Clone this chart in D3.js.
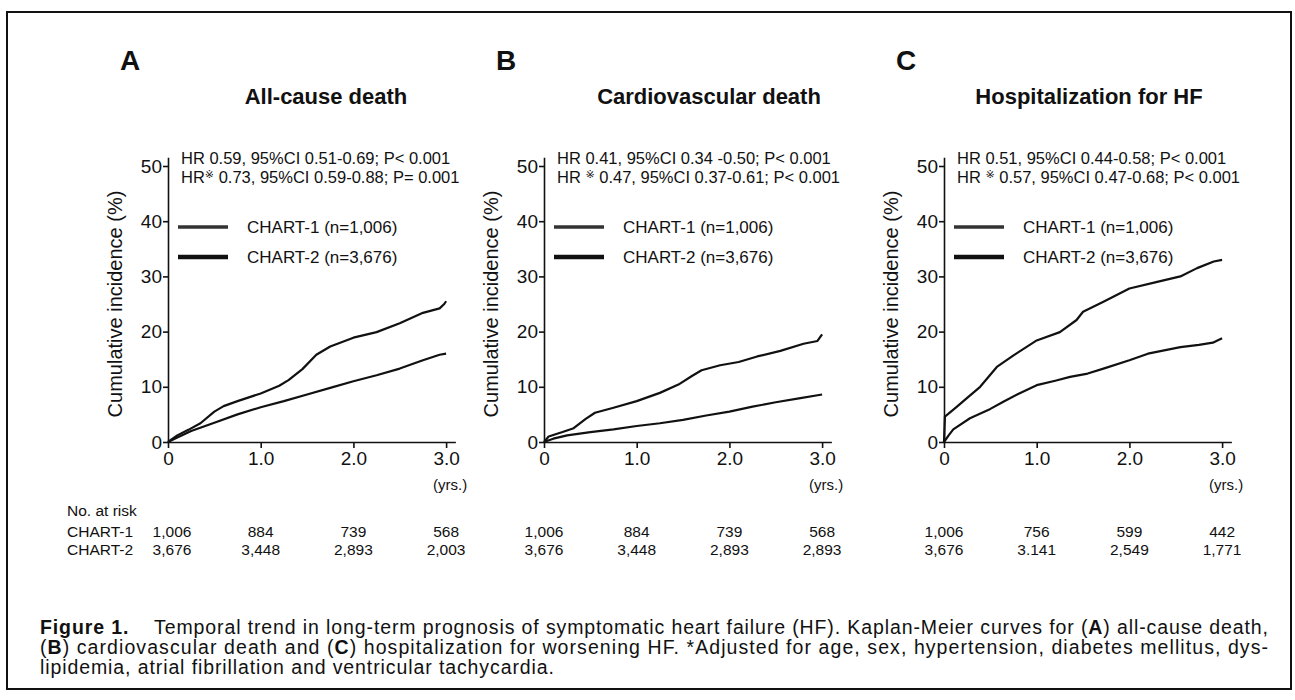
<!DOCTYPE html>
<html>
<head>
<meta charset="utf-8">
<script src="https://cdn.jsdelivr.net/npm/d3@7/dist/d3.min.js"></script>
<style>
  body { margin: 0; background: #fff; }
  svg text { font-family: "Liberation Sans", Arial, Helvetica, sans-serif; fill: #111; }
  .axis path, .axis line { stroke: #111; stroke-width: 1.6; }
  .curve { fill: none; stroke: #111; stroke-width: 2.2; stroke-linejoin: round; }
</style>
</head>
<body>
<svg id="chart" width="1295" height="700"></svg>
<script>
// panel text
var panelLetters = ["A", "B", "C"];
var panelTitles = ["All-cause death", "Cardiovascular death", "Hospitalization for HF"];
var hrLine1 = ["HR 0.59, 95%CI 0.51-0.69; P< 0.001",
               "HR 0.41, 95%CI 0.34 -0.50; P< 0.001",
               "HR 0.51, 95%CI 0.44-0.58; P< 0.001"];
var hrLine2 = [["HR", " 0.73, 95%CI 0.59-0.88; P= 0.001"],
               ["HR ", " 0.47, 95%CI 0.37-0.61; P< 0.001"],
               ["HR ", " 0.57, 95%CI 0.47-0.68; P< 0.001"]];
var seriesNames = ["CHART-1 (n=1,006)", "CHART-2 (n=3,676)"];

// axis ticks
var xTicks = [0, 1, 2, 3];
var xTickLabels = ["0", "1.0", "2.0", "3.0"];
var yTicks = [0, 10, 20, 30, 40, 50];

// curves: [years, cumulative incidence %]
var allCause1 = [[0,0],[0.1,1.2],[0.22,2.2],[0.35,3.4],[0.5,5.5],[0.6,6.5],[0.75,7.4],[1.0,8.8],[1.2,10.2],
                 [1.3,11.2],[1.45,13.2],[1.6,15.8],[1.75,17.3],[2.0,18.9],[2.25,19.9],[2.5,21.5],[2.75,23.4],
                 [2.93,24.2],[2.98,25.0],[3.0,25.5]];
var allCause2 = [[0,0],[0.1,0.8],[0.25,2.0],[0.5,3.5],[0.75,5.0],[1.0,6.3],[1.25,7.4],[1.5,8.6],[1.75,9.8],
                 [2.0,11.0],[2.25,12.1],[2.5,13.3],[2.75,14.8],[2.93,15.8],[3.0,16.0]];
var cardio1 = [[0,0],[0.05,1.0],[0.2,1.8],[0.32,2.5],[0.45,4.2],[0.55,5.3],[0.75,6.2],[1.0,7.4],[1.25,8.9],
               [1.45,10.4],[1.6,12.0],[1.7,13.0],[1.9,13.9],[2.1,14.5],[2.3,15.5],[2.55,16.5],[2.8,17.8],
               [2.95,18.3],[3.0,19.5]];
var cardio2 = [[0,0],[0.1,0.6],[0.25,1.2],[0.5,1.8],[0.75,2.3],[1.0,2.9],[1.25,3.4],[1.5,4.0],[1.75,4.8],
               [2.0,5.5],[2.25,6.4],[2.5,7.2],[2.75,7.9],[3.0,8.6]];
var hosp1 = [[0,0],[0.01,4.6],[0.14,6.4],[0.25,8.0],[0.39,10.0],[0.57,13.6],[0.75,15.7],[1.0,18.4],
             [1.25,19.9],[1.43,22.1],[1.5,23.6],[1.72,25.4],[2.0,27.8],[2.3,29.0],[2.55,30.0],[2.73,31.5],
             [2.91,32.7],[3.0,33.0]];
var hosp2 = [[0,0],[0.05,1.2],[0.1,2.3],[0.28,4.3],[0.5,6.0],[0.64,7.3],[0.8,8.7],[1.0,10.3],[1.2,11.1],
             [1.36,11.8],[1.55,12.4],[1.72,13.3],[2.0,14.8],[2.2,16.0],[2.55,17.2],[2.75,17.6],[2.9,18.0],
             [3.0,18.8]];
var panelSeries = [[allCause1, allCause2], [cardio1, cardio2], [hosp1, hosp2]];

// numbers at risk
var riskChart1 = [["1,006", "884", "739", "568"],
                  ["1,006", "884", "739", "568"],
                  ["1,006", "756", "599", "442"]];
var riskChart2 = [["3,676", "3,448", "2,893", "2,003"],
                  ["3,676", "3,448", "2,893", "2,893"],
                  ["3,676", "3.141", "2,549", "1,771"]];

var captionLines = [
  ["Figure 1.", "    Temporal trend in long-term prognosis of symptomatic heart failure (HF). Kaplan-Meier curves for (", "A", ") all-cause death,"],
  ["(", "B", ") cardiovascular death and (", "C", ") hospitalization for worsening HF. *Adjusted for age, sex, hypertension, diabetes mellitus, dys-"],
  ["lipidemia, atrial fibrillation and ventricular tachycardia."]
];

// layout
var originX = [168, 544, 944];
var letterX = [130, 506, 906];
var titleX = [326, 709, 1089];
var yrPx = 92.7;
var y0 = 442, pxPerPct = 5.52;

var svg = d3.select("#chart");

// outer frame
svg.append("rect")
   .attr("x", 7).attr("y", 12)
   .attr("width", 1284).attr("height", 677)
   .attr("fill", "none").attr("stroke", "#111").attr("stroke-width", 2);

var y = d3.scaleLinear().domain([0, 51.6]).range([y0, y0 - 51.6 * pxPerPct]);

panelSeries.forEach(function(series, i) {
    var ox = originX[i];
    var x = d3.scaleLinear().domain([0, 3.1]).range([ox, ox + 3.1 * yrPx]);
    var g = svg.append("g");

    g.append("text").attr("x", letterX[i]).attr("y", 70)
     .attr("text-anchor", "middle").style("font-size", "28px").style("font-weight", "bold")
     .text(panelLetters[i]);

    g.append("text").attr("x", titleX[i]).attr("y", 104)
     .attr("text-anchor", "middle").style("font-size", "22px").style("font-weight", "bold")
     .text(panelTitles[i]);

    // axes
    g.append("g").attr("class", "axis")
     .attr("transform", "translate(" + ox + ",0)")
     .call(d3.axisLeft(y).tickValues(yTicks).tickSize(5).tickPadding(1).tickSizeOuter(0))
     .selectAll("text").style("font-size", "19px").style("font-family", "Liberation Sans, Arial, sans-serif");

    g.append("g").attr("class", "axis")
     .attr("transform", "translate(0," + y0 + ")")
     .call(d3.axisBottom(x).tickValues(xTicks).tickSize(6).tickPadding(4).tickSizeOuter(0)
             .tickFormat((d, k) => xTickLabels[k]))
     .selectAll("text").style("font-size", "19px").style("font-family", "Liberation Sans, Arial, sans-serif");

    svg.selectAll(".axis .domain").attr("stroke", "#111");

    g.append("text").attr("x", x(3) + 4).attr("y", 490)
     .attr("text-anchor", "middle").style("font-size", "15px").text("(yrs.)");

    // y label
    g.append("text")
     .attr("transform", "translate(" + (ox - 46) + "," + y(25) + ") rotate(-90)")
     .attr("text-anchor", "middle").style("font-size", "20px")
     .text("Cumulative incidence  (%)");

    // hazard ratios
    g.append("text").attr("x", ox + 13).attr("y", 164).style("font-size", "16.5px").text(hrLine1[i]);
    var t2 = g.append("text").attr("x", ox + 13).attr("y", 183).style("font-size", "16.5px");
    t2.append("tspan").text(hrLine2[i][0]);
    t2.append("tspan").attr("dy", -5).style("font-size", "11px")
      .style("font-family", "DejaVu Sans, sans-serif").text("\u203B");
    t2.append("tspan").attr("dy", 5).text(hrLine2[i][1]);

    // legend
    seriesNames.forEach(function(name, k) {
        var ly = 227 + k * 30;
        g.append("line").attr("x1", ox + 10).attr("x2", ox + 60)
         .attr("y1", ly).attr("y2", ly)
         .attr("stroke", k == 0 ? "#333" : "#111").attr("stroke-width", k == 0 ? 3.5 : 4.5);
        g.append("text").attr("x", ox + 79).attr("y", ly + 6)
         .style("font-size", "17px").text(name);
    });

    // curves
    var line = d3.line()
                 .x(d => x(d[0]))
                 .y(d => y(d[1]));
    series.forEach(function(data) {
        g.append("path").attr("class", "curve").datum(data).attr("d", line);
    });

    // numbers at risk
    if (i == 0) {
        g.append("text").attr("x", 67).attr("y", 516).style("font-size", "15.5px").text("No. at risk");
        g.append("text").attr("x", 67).attr("y", 537).style("font-size", "15.5px").text("CHART-1");
        g.append("text").attr("x", 67).attr("y", 555).style("font-size", "15.5px").text("CHART-2");
    }
    xTicks.forEach(function(t, k) {
        g.append("text").attr("x", x(t) + (k == 0 && i == 0 ? 4 : 0)).attr("y", 537)
         .attr("text-anchor", "middle").style("font-size", "15.5px").text(riskChart1[i][k]);
        g.append("text").attr("x", x(t) + (k == 0 && i == 0 ? 4 : 0)).attr("y", 555)
         .attr("text-anchor", "middle").style("font-size", "15.5px").text(riskChart2[i][k]);
    });
});

// caption, first two lines justified to the same width
captionLines.forEach(function(parts, r) {
    var t = svg.append("text").attr("x", 40).attr("y", 634 + r * 20)
               .style("font-size", "19.5px").attr("xml:space", "preserve");
    if (r < 2) t.attr("textLength", 1228).attr("lengthAdjust", "spacing");
    else t.style("letter-spacing", "0.9px");
    parts.forEach(function(p, k) {
        var bold = (r == 0 && (k == 0 || k == 2)) || (r == 1 && (k == 1 || k == 3));
        t.append("tspan").style("font-weight", bold ? "bold" : "normal").text(p);
    });
});
</script>
</body>
</html>
